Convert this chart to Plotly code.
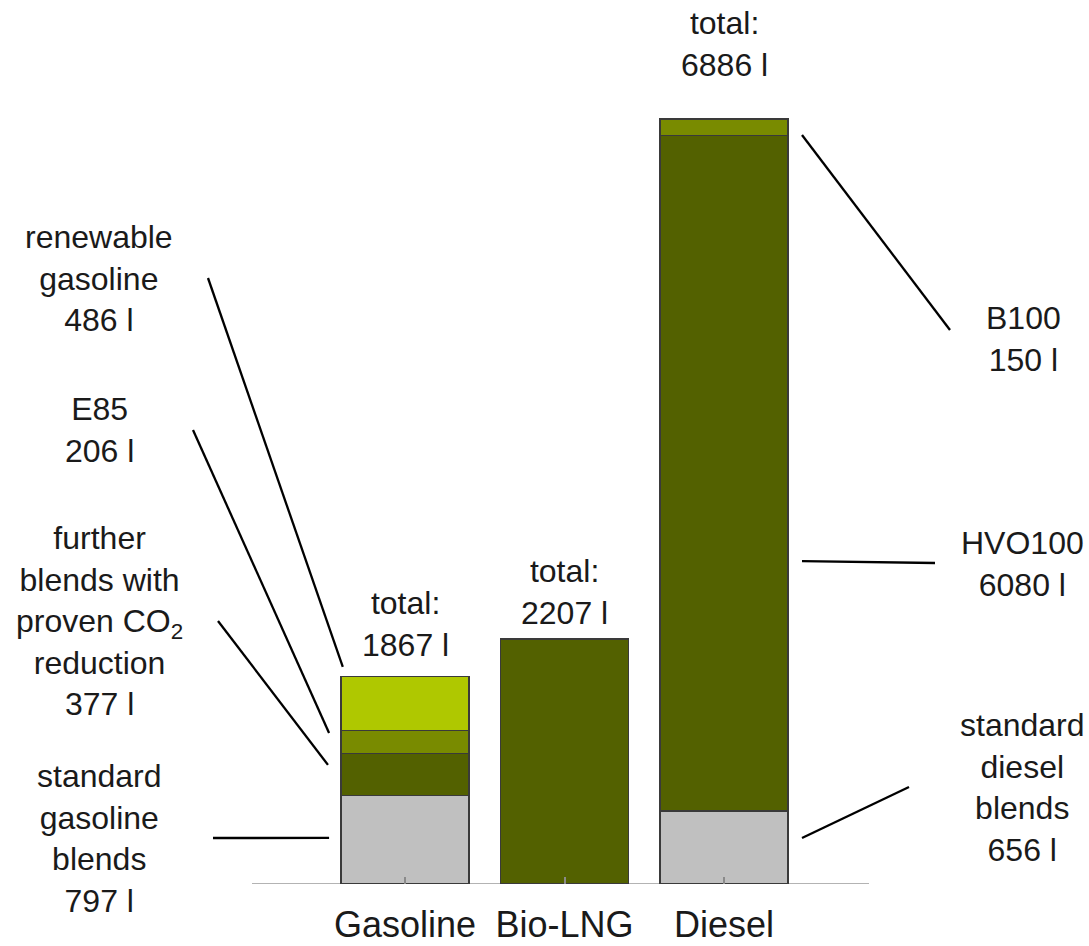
import plotly.graph_objects as go

# ---- data (litres) ----
categories = ["Gasoline", "Bio-LNG", "Diesel"]
standard_blends = [797, None, 656]
further_blends = [377, None, None]
e85 = [206, None, None]
renewable_gasoline = [486, None, None]
bio_lng = [None, 2207, None]
hvo100 = [None, None, 6080]
b100 = [None, None, 150]
totals = [1867, 2207, 6886]

GRAY = "#c0c0c0"
DARK = "#536100"
MID = "#798b00"
LIME = "#afc800"
EDGE = "#3a3a3a"
TEXT = "#1a1a1a"
FONT = "Liberation Sans, Arial, sans-serif"

# ---- geometry of the plotting frame ----
W, H = 1089, 946
BOTTOM = 62
X0_PX, X_STEP = 405.0, 159.5     # pixel of category 0 and spacing
Y_SCALE = 0.1111                  # pixels per litre
PLOT_H = H - BOTTOM


def px_x(px):
    return (px - X0_PX) / X_STEP


def px_y(py):
    return (PLOT_H - py) / Y_SCALE


fig = go.Figure()
x = list(range(len(categories)))
for name, vals, col in [
    ("standard blends", standard_blends, GRAY),
    ("further blends", further_blends, DARK),
    ("Bio-LNG", bio_lng, DARK),
    ("HVO100", hvo100, DARK),
    ("E85", e85, MID),
    ("B100", b100, MID),
    ("renewable gasoline", renewable_gasoline, LIME),
]:
    fig.add_trace(go.Bar(
        x=x, y=vals, name=name, width=0.8,
        marker=dict(color=col, line=dict(color=EDGE, width=1.5)),
        hoverinfo="skip", showlegend=False,
    ))

# ---- totals above the bars ----
total_shift = [12, 6, 34]
for i, t in enumerate(totals):
    fig.add_annotation(
        x=i, y=t, xref="x", yref="y", yanchor="bottom",
        text=f"total:<br>{t} l", showarrow=False, yshift=total_shift[i],
        font=dict(size=32, color=TEXT, family=FONT), align="center",
    )

# ---- segment labels (text, centre px x, centre px y) ----
labels = [
    ("renewable<br>gasoline<br>486 l", 99, 278),
    ("E85<br>206 l", 99, 430),
    ("further<br>blends with<br>proven CO<sub>2</sub><br>reduction<br>377 l", 99, 621),
    ("standard<br>gasoline<br>blends<br>797 l", 99, 838),
    ("B100<br>150 l", 1023, 339),
    ("HVO100<br>6080 l", 1022, 564),
    ("standard<br>diesel<br>blends<br>656 l", 1022, 787),
]
for txt, lx, ly in labels:
    fig.add_annotation(
        x=lx / W, y=(PLOT_H - ly) / PLOT_H, xref="paper", yref="paper",
        xanchor="center", yanchor="middle", text=txt, showarrow=False,
        font=dict(size=32, color=TEXT, family=FONT), align="center",
    )

# ---- leader lines: outer end (px) to a point at the bar side ----
gas, die = 0, 2
leaders = [
    # (outer px x, outer px y, category, dx from centre, segment base, segment value, fraction)
    (208, 278, gas, -0.39, 797 + 377 + 206, renewable_gasoline[gas], 1.18),
    (193, 430, gas, -0.476, 797 + 377, e85[gas], 0.90),
    (218, 621, gas, -0.483, 797, further_blends[gas], 0.73),
    (213, 838, gas, -0.476, 0, standard_blends[gas], 0.52),
    (950, 330, die, 0.489, 656 + 6080, b100[die], 0.04),
    (935, 563, die, 0.489, 656, hvo100[die], 0.37),
    (909, 787, die, 0.489, 0, standard_blends[die], 0.63),
]
for ox, oy, c, dx, base, val, frac in leaders:
    fig.add_shape(
        type="line", xref="x", yref="y",
        x0=px_x(ox), y0=px_y(oy), x1=c + dx, y1=base + frac * val,
        line=dict(color="#000000", width=2.3),
    )

# ---- category baseline ----
fig.add_shape(
    type="line", xref="x", yref="y", x0=px_x(252), x1=px_x(869), y0=0, y1=0,
    line=dict(color="#9a9a9a", width=1.5), layer="below",
)

fig.update_layout(
    width=W, height=H, barmode="stack",
    margin=dict(l=0, r=0, t=0, b=BOTTOM, pad=0),
    paper_bgcolor="white", plot_bgcolor="white",
    font=dict(family=FONT, color=TEXT),
    xaxis=dict(
        range=[px_x(0), px_x(W)], tickvals=x, ticktext=categories,
        ticks="inside", ticklen=7, tickwidth=1.5, tickcolor="#8a8a8a",
        showline=False, showgrid=False, zeroline=False,
        ticklabelstandoff=16,
        tickfont=dict(size=36, color=TEXT, family=FONT),
    ),
    yaxis=dict(range=[0, px_y(0)], visible=False, showgrid=False),
)

fig.write_html("out.html")
